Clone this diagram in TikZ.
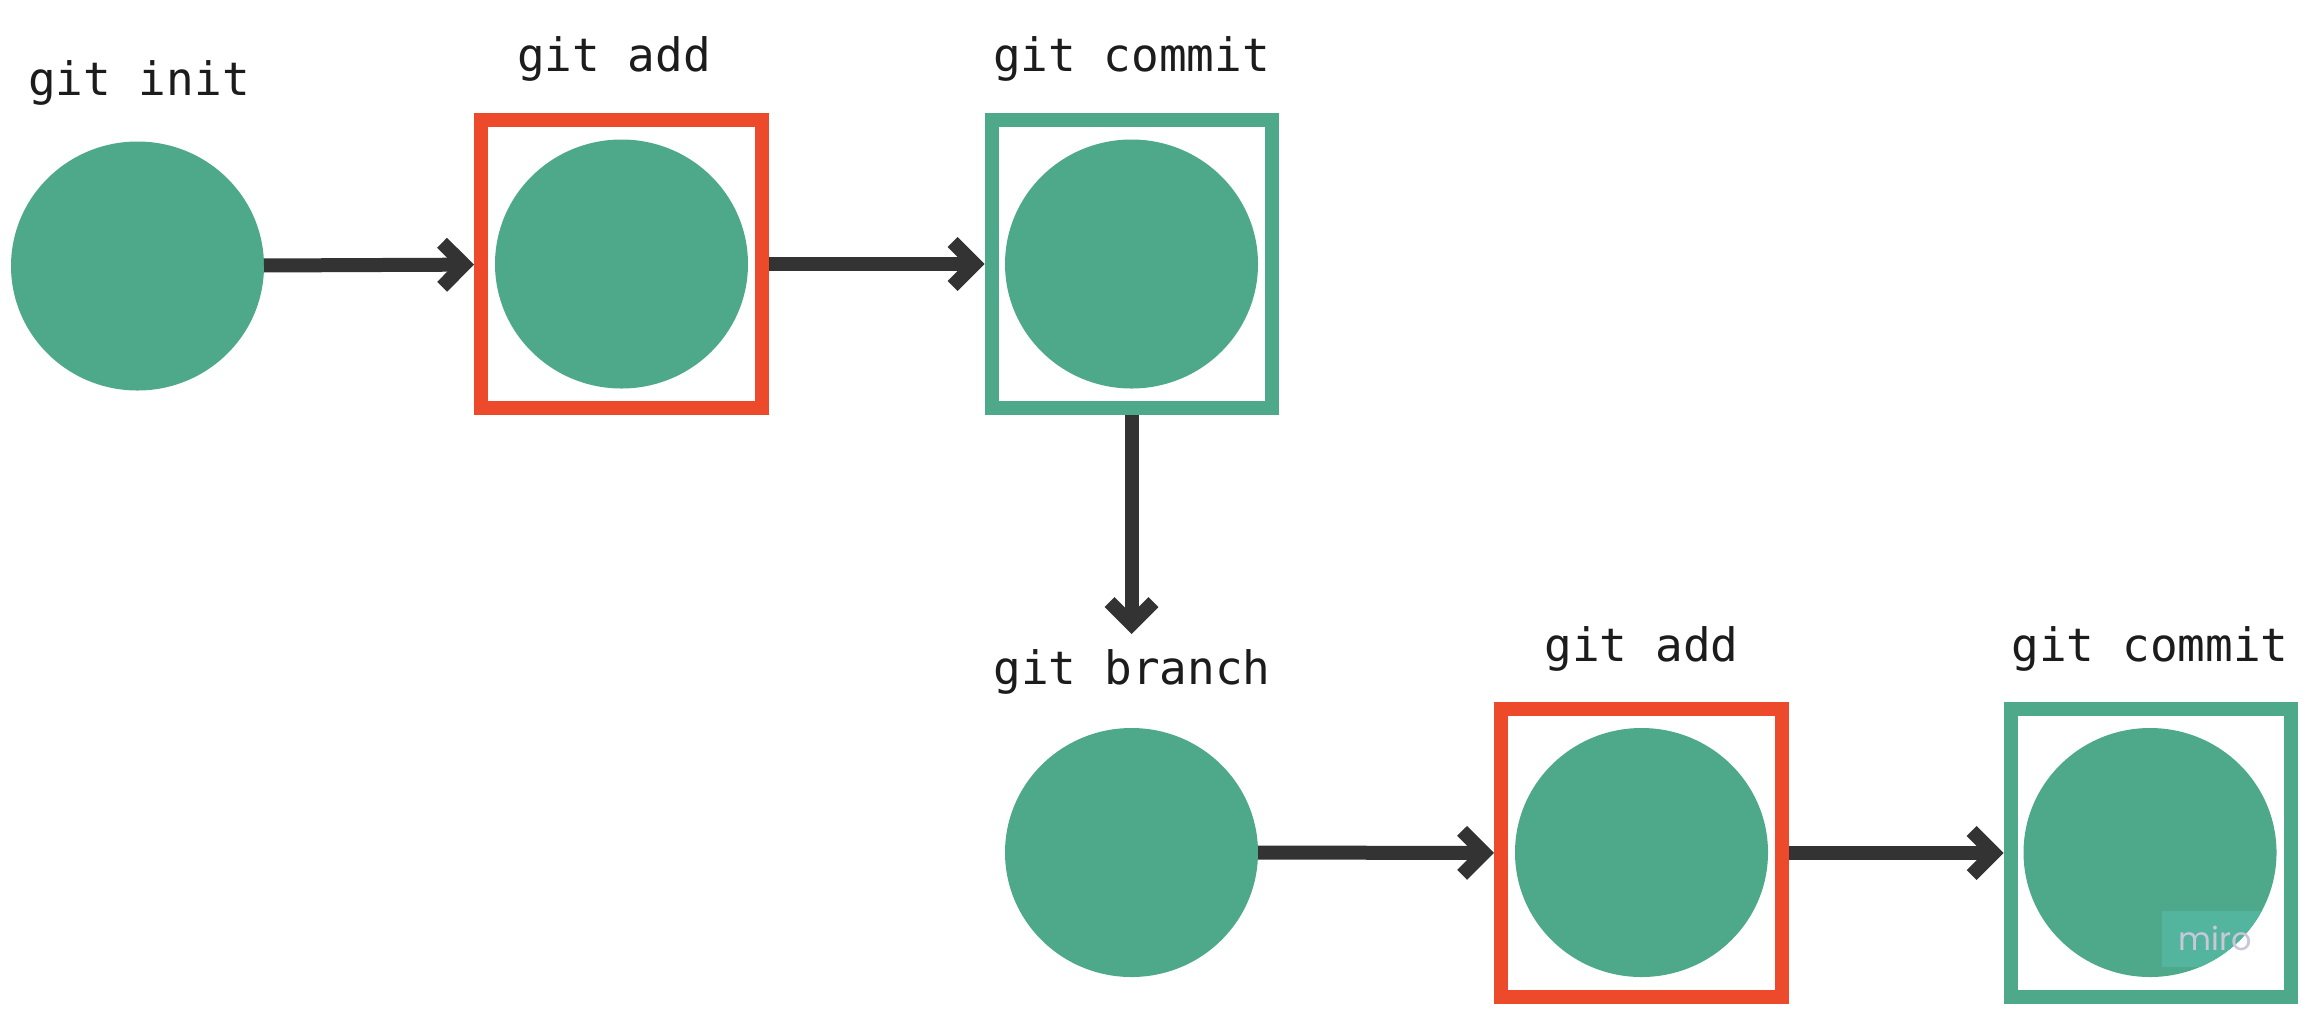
\documentclass[tikz,border=0pt]{standalone}
\usepackage{fontspec}
\setmonofont{DejaVu Sans Mono}
\newfontfamily\mirofont{Poppins}
\usetikzlibrary{arrows.meta,shapes.geometric}
\definecolor{gitgreen}{HTML}{4EA88A}
\definecolor{gitred}{HTML}{EC4A2A}
\definecolor{arrowgray}{HTML}{333333}
\definecolor{txtcol}{HTML}{1C1C1C}
\definecolor{wmfill}{HTML}{53B59D}
\definecolor{wmtext}{HTML}{C8C8DA}
\begin{document}
\begin{tikzpicture}[x=0.5pt,y=-0.5pt,
  commitdot/.style={ellipse, fill=gitgreen, minimum width=126.5pt, minimum height=124.5pt, inner sep=0pt, outer sep=0pt},
  stagebox/.style={rectangle, draw=gitred, line width=7pt, minimum width=140.5pt, minimum height=144pt, inner sep=0pt},
  commitbox/.style={stagebox, draw=gitgreen, minimum width=140pt},
  cmd/.style={font=\ttfamily\fontsize{23}{23}\selectfont, text=txtcol, anchor=base, inner sep=0pt},
  flow/.style={draw=arrowgray, line width=7pt, -{Straight Barb[length=11pt, width=22pt, sharp]}},
]
\useasboundingbox (0,0) rectangle (2310,1024);

% labels
\node[cmd] (l1) at (139,95) {git init};
\node[cmd] (l2) at (614,71) {git add};
\node[cmd] (l3) at (1131.5,71) {git commit};
\node[cmd] (l4) at (1132,684) {git branch};
\node[cmd] (l5) at (1641.5,661) {git add};
\node[cmd] (l6) at (2150,661) {git commit};

% boxes
\node[stagebox] (b2) at (621.5,264) {};
\node[commitbox] (b3) at (1131.5,264) {};
\node[stagebox] (b5) at (1641.5,853) {};
\node[commitbox] (b6) at (2150.5,853) {};

% commit dots
\node[commitdot] (c1) at (137.5,266) {};
\node[commitdot] (c2) at (621.5,264) {};
\node[commitdot] (c3) at (1131.5,264) {};
\node[commitdot] (c4) at (1131.5,852.5) {};
\node[commitdot] (c5) at (1641.5,852.5) {};
\node[commitdot] (c6) at (2150,852.5) {};

% watermark
\begin{scope}
  \clip (c6.center) ellipse [x radius=126.5, y radius=124.5];
  \fill[wmfill] (2162,911) rectangle (2262,967);
\end{scope}
\node[font=\mirofont\fontsize{16}{16}\selectfont, text=wmtext, anchor=base, inner sep=0pt] (wm) at (2215,950) {miro};

% connectors
\coordinate (branchtip) at (1131.5,634);
\draw[flow] (c1) -- (b2);
\draw[flow] (b2) -- (b3);
\draw[flow] (b3) -- (branchtip);
\draw[flow] (c4) -- (b5);
\draw[flow] (b5) -- (b6);
\end{tikzpicture}
\end{document}
